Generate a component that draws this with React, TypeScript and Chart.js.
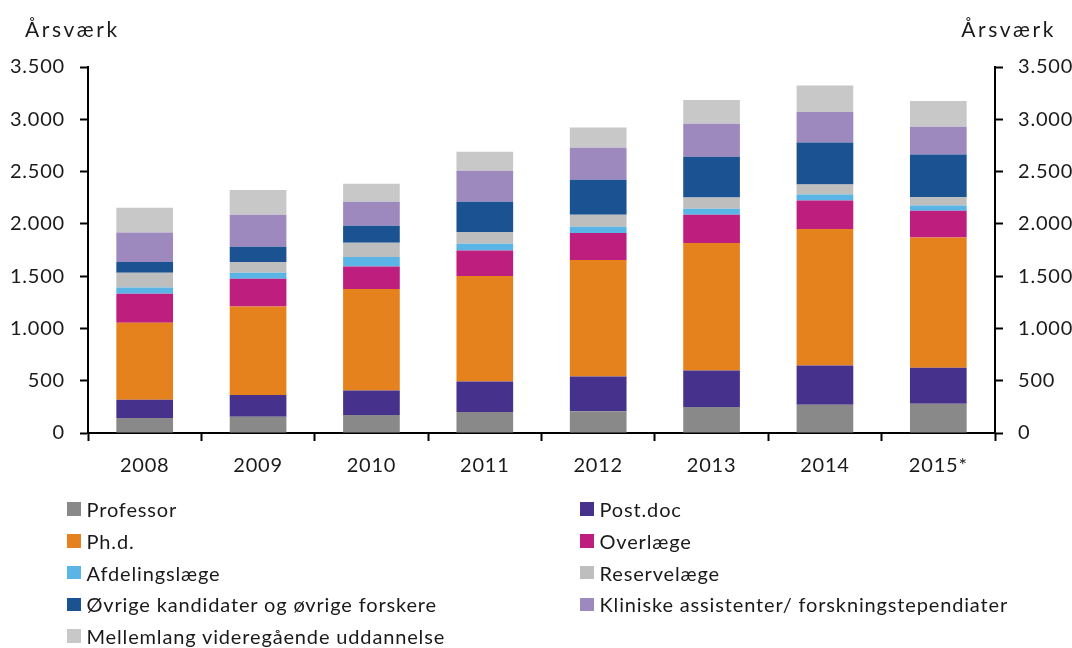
import React, { useEffect, useRef } from "react";
import { Chart, registerables } from "chart.js";

Chart.register(...registerables);

const years = ["2008", "2009", "2010", "2011", "2012", "2013", "2014", "2015*"];

const professor = [143, 156, 172, 201, 207, 249, 271, 280];
const postdoc = [175, 207, 235, 292, 334, 349, 375, 344];
const phd = [736, 847, 970, 1008, 1113, 1218, 1304, 1246];
const overlaege = [278, 265, 216, 245, 258, 271, 274, 255];
const afdelingslaege = [60, 58, 90, 64, 60, 57, 57, 51];
const reservelaege = [141, 102, 136, 112, 115, 108, 96, 80];
const oevrige = [102, 146, 163, 290, 335, 390, 401, 407];
const kliniske = [283, 306, 229, 296, 306, 315, 291, 265];
const mellemlang = [236, 236, 172, 181, 194, 227, 254, 246];

const seriesNames = [
  "Professor",
  "Post.doc",
  "Ph.d.",
  "Overlæge",
  "Afdelingslæge",
  "Reservelæge",
  "Øvrige kandidater og øvrige forskere",
  "Kliniske assistenter/ forskningstependiater",
  "Mellemlang videregående uddannelse",
];
const seriesValues = [professor, postdoc, phd, overlaege, afdelingslaege, reservelaege, oevrige, kliniske, mellemlang];
const seriesColors = ["#898989", "#46328C", "#E6821E", "#BE1E7D", "#5AB4E6", "#BEBEBE", "#1B5291", "#9D89BD", "#C8C8C8"];

const yTicks = [0, 500, 1000, 1500, 2000, 2500, 3000, 3500];
const axisTitle = "Årsværk";

const FONT = "Lato, 'Open Sans', sans-serif";
const TEXT = "#1a1a1a";

const fmt = (v: number) => {
  const s = String(Math.round(v));
  return s.replace(/\B(?=(\d{3})+(?!\d))/g, ".");
};

const spacingPlugin = {
  id: "letterSpacing",
  beforeInit(chart: any) {
    chart.ctx.letterSpacing = "0.8px";
  },
  beforeUpdate(chart: any) {
    chart.ctx.letterSpacing = "0.8px";
  },
  beforeDraw(chart: any) {
    chart.ctx.letterSpacing = "0.8px";
  },
};

const titlesPlugin = {
  id: "axisTitles",
  afterDraw(chart: any) {
    const ctx = chart.ctx;
    ctx.save();
    ctx.font = `21px ${FONT}`;
    ctx.letterSpacing = "2.6px";
    ctx.fillStyle = TEXT;
    ctx.textBaseline = "alphabetic";
    ctx.textAlign = "left";
    ctx.fillText(axisTitle, 25, 37);
    ctx.textAlign = "right";
    ctx.fillText(axisTitle, 1056, 37);
    ctx.restore();
  },
};

export default function App() {
  const ref = useRef<HTMLCanvasElement | null>(null);

  useEffect(() => {
    document.body.style.margin = "0";
    if (!ref.current) return;
    const tickFont = { family: FONT, size: 20 };
    const chart = new Chart(ref.current, {
      type: "bar",
      data: {
        labels: years,
        datasets: seriesNames.map((name, i) => ({
          label: name,
          data: seriesValues[i],
          backgroundColor: seriesColors[i],
          borderWidth: 0,
          categoryPercentage: 1,
          barPercentage: 0.5,
          yAxisID: "y",
        })),
      },
      options: {
        responsive: false,
        animation: false,
        devicePixelRatio: 1,
        layout: { padding: { top: 67, left: 0, right: 0, bottom: 0 } },
        plugins: {
          legend: { display: false },
          tooltip: { enabled: false },
          title: { display: false },
        },
        scales: {
          x: {
            stacked: true,
            grid: { display: true, drawOnChartArea: false, drawTicks: true, tickLength: 8, tickWidth: 2, tickColor: "#000", offset: true },
            border: { display: true, color: "#000", width: 2 },
            ticks: { font: tickFont, color: TEXT, padding: 13, maxRotation: 0 },
            afterFit: (s: any) => {
              s.height = 648 - 433;
            },
          },
          y: {
            position: "left",
            stacked: true,
            min: 0,
            max: 3500,
            afterBuildTicks: (s: any) => {
              s.ticks = yTicks.map((v) => ({ value: v }));
            },
            grid: { drawOnChartArea: false, drawTicks: true, tickLength: 8, tickWidth: 2, tickColor: "#000" },
            border: { display: true, color: "#000", width: 2 },
            ticks: { font: tickFont, color: TEXT, padding: 15, callback: (v: any) => fmt(Number(v)) },
            afterFit: (s: any) => {
              s.width = 88;
            },
          },
          y2: {
            position: "right",
            min: 0,
            max: 3500,
            afterBuildTicks: (s: any) => {
              s.ticks = yTicks.map((v) => ({ value: v }));
            },
            grid: { drawOnChartArea: false, drawTicks: true, tickLength: 8, tickWidth: 2, tickColor: "#000" },
            border: { display: true, color: "#000", width: 2 },
            ticks: { font: tickFont, color: TEXT, padding: 15, callback: (v: any) => fmt(Number(v)) },
            afterFit: (s: any) => {
              s.width = 1072 - 995;
            },
          },
        },
      },
      plugins: [spacingPlugin, titlesPlugin],
    } as any);
    return () => chart.destroy();
  }, []);

  const rows: number[][] = [];
  for (let i = 0; i < seriesNames.length; i += 2) rows.push([i, i + 1].filter((k) => k < seriesNames.length));

  return (
    <div style={{ position: "absolute", left: 0, top: 0, width: 1072, height: 648, background: "#fff", overflow: "hidden" }}>
      <canvas ref={ref} width={1072} height={648} style={{ position: "absolute", left: 0, top: 0, width: 1072, height: 648 }} />
      {rows.map((row, r) =>
        row.map((k, c) => (
          <div
            key={k}
            style={{
              position: "absolute",
              left: c === 0 ? 67 : 580,
              top: 509 + r * 31.8 - 14,
              height: 28,
              display: "flex",
              alignItems: "center",
              whiteSpace: "nowrap",
              font: `20px ${FONT}`,
              letterSpacing: "0.85px",
              color: TEXT,
            }}
          >
            <span style={{ display: "inline-block", width: 13.5, height: 13.5, background: seriesColors[k], marginRight: 6 }} />
            <span>{seriesNames[k]}</span>
          </div>
        ))
      )}
    </div>
  );
}
